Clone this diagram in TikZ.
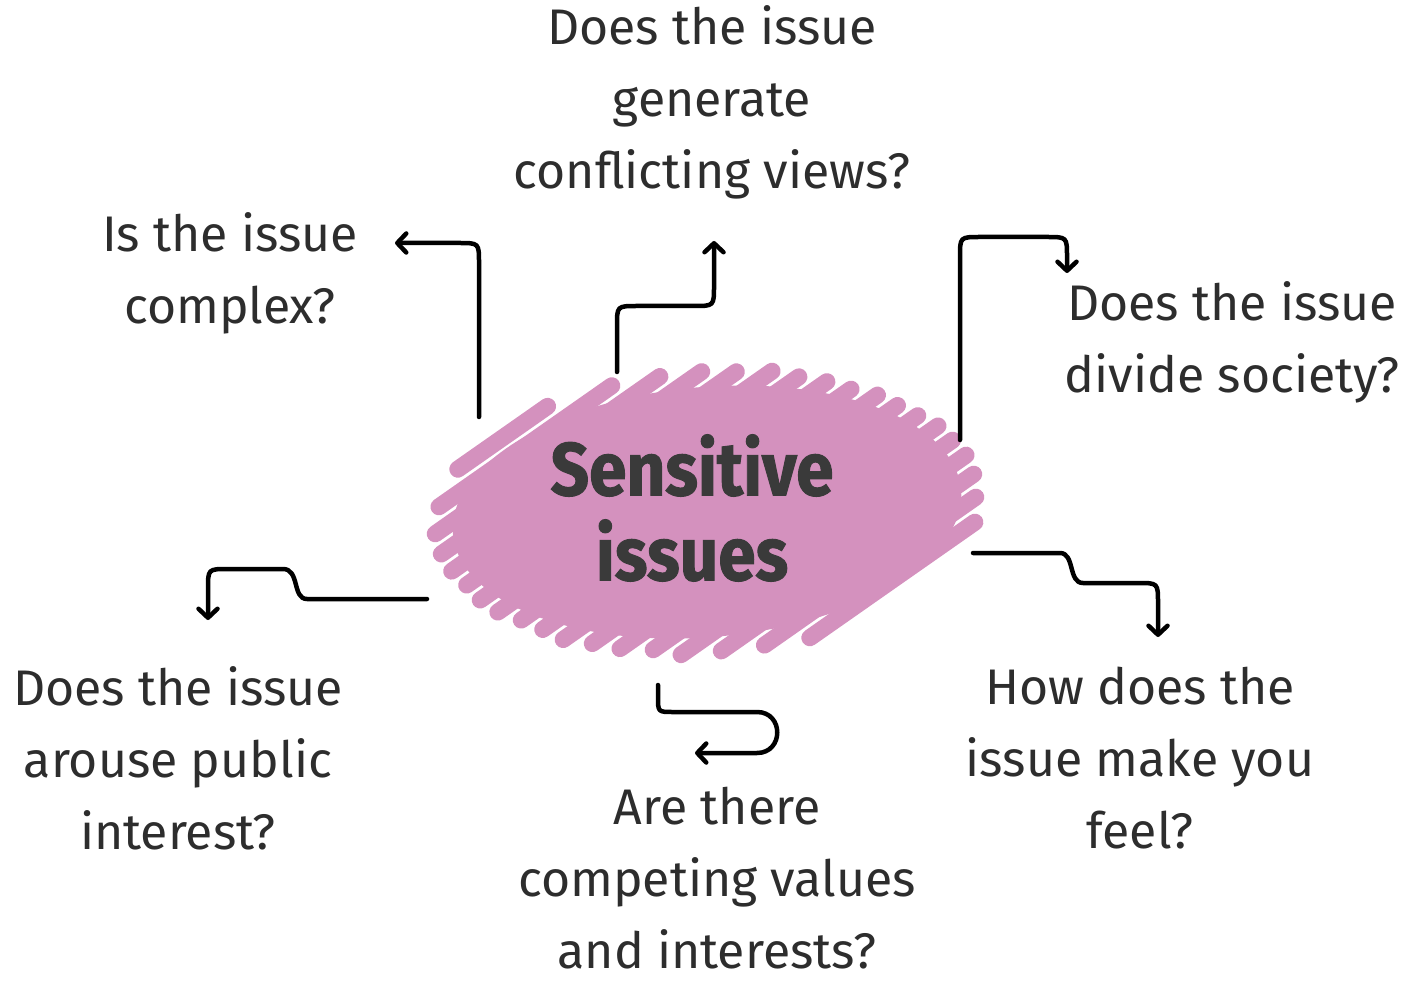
\documentclass[tikz,border=0pt]{standalone}
\usepackage{fontspec}
\setmainfont{Fira Sans}
\newfontfamily\ttlfont{Fira Sans}[FakeStretch=0.9, FakeBold=1.3]
\usetikzlibrary{arrows.meta}
\definecolor{blob}{RGB}{212,145,190}
\definecolor{txt}{RGB}{45,45,45}
\definecolor{ttl}{RGB}{58,58,58}
\tikzset{
  q/.style={align=center, text=txt, inner sep=0pt, font=\fontsize{50}{72}\selectfont},
  ttlbox/.style={align=center, text=ttl, inner sep=0pt, font=\ttlfont\fontsize{75}{85}\selectfont\bfseries},
  conn/.style={line width=4.5pt, line cap=round, line join=round, -{Straight Barb[length=9pt,width=19pt,round]}},
  scrib/.style={blob, line width=17pt, line cap=round}
}
\begin{document}
\begin{tikzpicture}[x=1pt,y=-1pt]
\useasboundingbox (0,0) rectangle (1409,981);
% scribble blob
\pgfmathsetseed{11}
\begin{scope}[shift={(707,512)}, rotate=5]
  \fill[blob] (0,0) ellipse [x radius=255, y radius=125];
  \foreach \s in {-1.78,-1.58,...,1.80} {
    \pgfmathsetmacro\A{0.75/7.73+0.25/2.1025}
    \pgfmathsetmacro\B{2*\s*(0.433/7.73-0.433/2.1025)}
    \pgfmathsetmacro\C{\s*\s*(0.25/7.73+0.75/2.1025)-1}
    \pgfmathsetmacro\D{max(\B*\B-4*\A*\C,0)}
    \pgfmathsetmacro\ta{(-\B-sqrt(\D))/(2*\A)+0.06+0.08*rnd}
    \pgfmathsetmacro\tb{(-\B+sqrt(\D))/(2*\A)-0.06-0.08*rnd}
    \draw[scrib] ({100*(\s*0.5+\ta*0.866)},{100*(\s*0.866-\ta*0.5)}) -- ({100*(\s*0.5+\tb*0.866)},{100*(\s*0.866-\tb*0.5)});
  }
\end{scope}
\node[ttlbox] (title) at (692,508) {Sensitive\\issues};
% labels
\node[q] (top) at (712,102) {Does the issue\\generate\\conflicting views?};
\node[q] (cmp) at (230,273) {Is the issue\\complex?};
\node[q] (div) at (1232,342) {Does the issue\\divide society?};
\node[q] (pub) at (178,758) {Does the issue\\arouse public\\interest?};
\node[q] (val) at (717,878) {Are there\\competing values\\and interests?};
\node[q] (feel) at (1140,758) {How does the\\issue make you\\feel?};
% connector ends
\coordinate (a1) at (479,417); \coordinate (b1) at (395,243);
\coordinate (a2) at (617,372); \coordinate (b2) at (714,241);
\coordinate (a3) at (960,440); \coordinate (b3) at (1067,273);
\coordinate (a4) at (427,599); \coordinate (b4) at (208,620);
\coordinate (a5) at (658,685); \coordinate (b5) at (695,753);
\coordinate (a6) at (973,553); \coordinate (b6) at (1158,637);
\draw[conn] (a1) -- (479,263) .. controls (479,243) .. (459,243) -- (b1);
\draw[conn] (a2) -- (617,326) .. controls (617,306) .. (637,306) -- (694,306) .. controls (714,306) .. (714,286) -- (b2);
\draw[conn] (a3) -- (960,257) .. controls (960,237) .. (980,237) -- (1047,237) .. controls (1067,237) .. (1067,257) -- (b3);
\draw[conn] (a4) -- (307,599) .. controls (292,599) and (300,569) .. (283,569) -- (228,569) .. controls (208,569) .. (208,589) -- (b4);
\draw[conn] (a5) -- (658,697) .. controls (658,712) .. (673,712) -- (757,712) .. controls (784,712) and (784,753) .. (757,753) -- (b5);
\draw[conn] (a6) -- (1060,553) .. controls (1075,553) and (1068,583) .. (1083,583) -- (1138,583) .. controls (1158,583) .. (1158,603) -- (b6);
\end{tikzpicture}
\end{document}
